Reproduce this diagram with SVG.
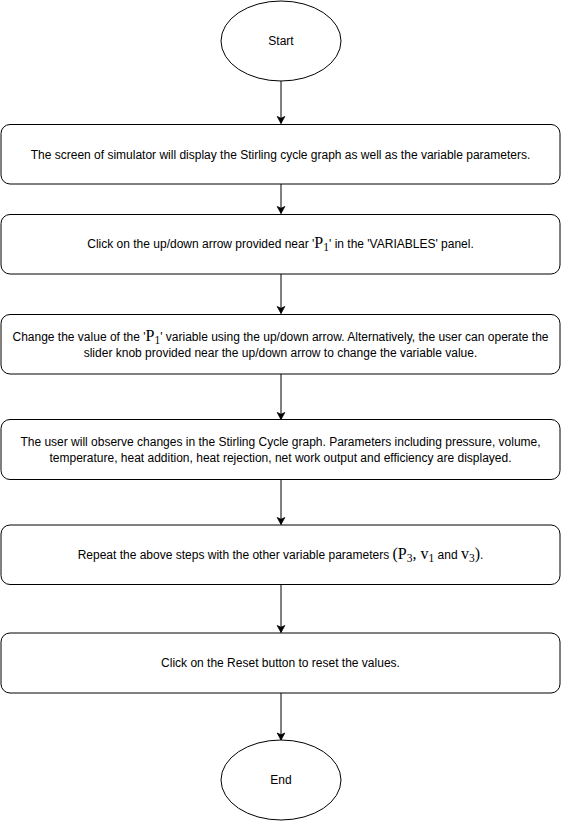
<svg xmlns="http://www.w3.org/2000/svg" width="561" height="821" viewBox="0 0 561 821">
<style>
.box{fill:#fff;stroke:#000;stroke-width:1}
.t{font-family:"Liberation Sans",Arial,sans-serif;font-size:12px;fill:#000;text-anchor:middle}
.m{font-family:"Liberation Serif","Times New Roman",serif;font-size:16px}
.s{font-family:"Liberation Serif","Times New Roman",serif;font-size:11.5px}
.c{stroke:#000;stroke-width:1;fill:none}
</style>
<defs>
<marker id="ah" markerUnits="userSpaceOnUse" markerWidth="10" markerHeight="10" viewBox="0 0 10 10" refX="8" refY="5" orient="auto">
<path d="M1,1.2 L8,5 L1,8.8 L2.8,5 Z" fill="#000" stroke="#000" stroke-width="0.8"/>
</marker>
</defs>
<rect width="561" height="821" fill="#fff"/>
<g id="connectors">
<line class="c" x1="281" y1="81" x2="281" y2="123.5" marker-end="url(#ah)"/>
<line class="c" x1="281" y1="184" x2="281" y2="213.5" marker-end="url(#ah)"/>
<line class="c" x1="281" y1="274" x2="281" y2="313.5" marker-end="url(#ah)"/>
<line class="c" x1="281" y1="374" x2="281" y2="419.5" marker-end="url(#ah)"/>
<line class="c" x1="281" y1="479.5" x2="281" y2="524.5" marker-end="url(#ah)"/>
<line class="c" x1="281" y1="584.5" x2="281" y2="632.5" marker-end="url(#ah)"/>
<line class="c" x1="281" y1="693" x2="281" y2="740" marker-end="url(#ah)"/>
</g>
<g id="start">
<ellipse class="box" cx="281" cy="41" rx="60" ry="40"/>
<text class="t" x="281" y="45">Start</text>
</g>
<g id="step1">
<rect class="box" x="1" y="124.5" width="559" height="59.5" rx="9"/>
<text class="t" x="280.5" y="159">The screen of simulator will display the Stirling cycle graph as well as the variable parameters.</text>
</g>
<g id="step2">
<rect class="box" x="1" y="214.5" width="559" height="59.5" rx="9"/>
<text class="t" x="280.5" y="248">Click on the up/down arrow provided near '<tspan class="m">P</tspan><tspan class="s" dy="3">1</tspan><tspan dy="-3">' in the 'VARIABLES' panel.</tspan></text>
</g>
<g id="step3">
<rect class="box" x="1" y="314.5" width="559" height="59.5" rx="9"/>
<text class="t" x="280.5" y="341">Change the value of the '<tspan class="m">P</tspan><tspan class="s" dy="3">1</tspan><tspan dy="-3">' variable using the up/down arrow. Alternatively, the user can operate the</tspan></text>
<text class="t" x="280.5" y="357">slider knob provided near the up/down arrow to change the variable value.</text>
</g>
<g id="step4">
<rect class="box" x="1" y="419.5" width="559" height="60" rx="9"/>
<text class="t" x="280.5" y="446">The user will observe changes in the Stirling Cycle graph. Parameters including pressure, volume,</text>
<text class="t" x="280.5" y="462">temperature, heat addition, heat rejection, net work output and efficiency are displayed.</text>
</g>
<g id="step5">
<rect class="box" x="1" y="525" width="559" height="59.5" rx="9"/>
<text class="t" x="280.5" y="559">Repeat the above steps with the other variable parameters <tspan class="m">(P</tspan><tspan class="s" dy="3">3</tspan><tspan class="m" dy="-3">, v</tspan><tspan class="s" dy="3">1</tspan><tspan dy="-3"> and </tspan><tspan class="m">v</tspan><tspan class="s" dy="3">3</tspan><tspan class="m" dy="-3">)</tspan>.</text>
</g>
<g id="step6">
<rect class="box" x="1" y="633" width="559" height="60" rx="9"/>
<text class="t" x="280.5" y="667">Click on the Reset button to reset the values.</text>
</g>
<g id="end">
<ellipse class="box" cx="281" cy="780" rx="60" ry="40"/>
<text class="t" x="281" y="784">End</text>
</g>
</svg>
